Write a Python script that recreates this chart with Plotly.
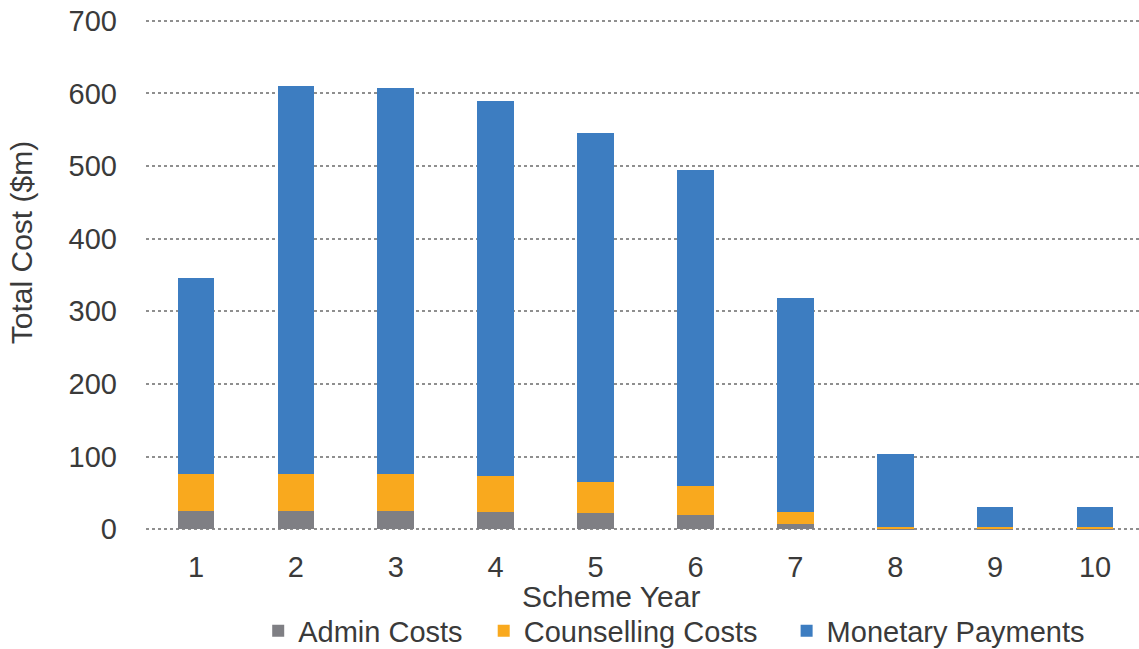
import plotly.graph_objects as go

years = ["1", "2", "3", "4", "5", "6", "7", "8", "9", "10"]
admin_costs = [25, 25, 25, 23.5, 22, 19.5, 7, 0.5, 0.5, 0.5]
counselling_costs = [51.5, 51.5, 51.5, 49.5, 42.5, 39.5, 17, 3, 3, 3]
monetary_payments = [269.5, 533.5, 530.5, 517, 481.5, 436, 295, 100.5, 27.5, 27.5]
y_ticks = [0, 100, 200, 300, 400, 500, 600, 700]
series_names = ["Admin Costs", "Counselling Costs", "Monetary Payments"]

FONT = "Liberation Sans, Arial, sans-serif"
TXT = "#3a3a3a"
NB = "\u00a0"

fig = go.Figure()
fig.add_trace(go.Bar(x=years, y=admin_costs, name=series_names[0] + NB * 2,
                     marker=dict(color="#7f7f84", line=dict(width=0)), width=0.367))
fig.add_trace(go.Bar(x=years, y=counselling_costs, name=series_names[1] + NB * 3,
                     marker=dict(color="#f9a91e", line=dict(width=0)), width=0.367))
fig.add_trace(go.Bar(x=years, y=monetary_payments, name=series_names[2],
                     marker=dict(color="#3d7dc1", line=dict(width=0)), width=0.367))

fig.update_layout(
    barmode="stack",
    width=1139, height=649,
    margin=dict(l=146, r=0, t=19, b=118, autoexpand=False),
    paper_bgcolor="white", plot_bgcolor="white",
    font=dict(family=FONT, size=29, color=TXT),
    showlegend=True,
    legend=dict(orientation="h", x=0.113, xanchor="left", y=-0.195, yanchor="middle",
                font=dict(size=29, color=TXT), traceorder="normal",
                itemwidth=30, bgcolor="rgba(0,0,0,0)"),
    xaxis=dict(type="category", range=[-0.5, 9.44], showgrid=False, showline=False,
               zeroline=False, ticks="", ticklabelstandoff=16, automargin=False,
               tickfont=dict(size=29, color=TXT)),
    yaxis=dict(range=[-2.5, 702.5], tickvals=y_ticks, showgrid=True, gridcolor="#8f8f8f",
               griddash="dot", gridwidth=1.5, zeroline=False, showline=False, ticks="",
               ticklabelstandoff=28, automargin=False,
               tickfont=dict(size=29, color=TXT)),
    annotations=[
        dict(text="Scheme Year", xref="paper", yref="paper", x=0.468, y=-0.127,
             xanchor="center", yanchor="middle", showarrow=False,
             font=dict(size=30, color=TXT)),
        dict(text="Total Cost ($m)", xref="paper", yref="paper", x=-0.1259, y=0.564,
             xanchor="center", yanchor="middle", showarrow=False, textangle=-90,
             font=dict(size=30, color=TXT)),
    ],
)

fig.write_html("out.html")
